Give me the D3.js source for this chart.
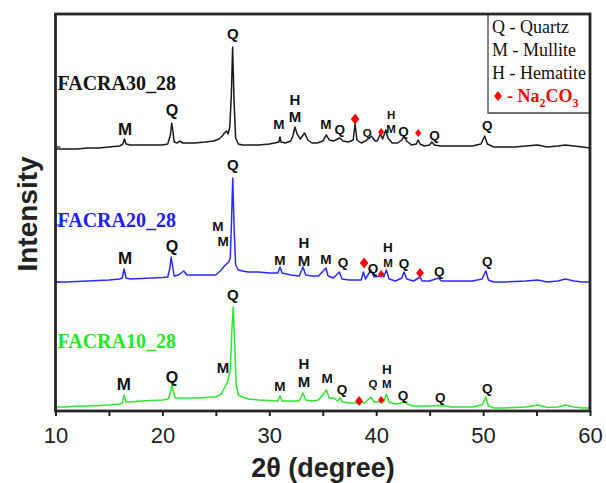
<!DOCTYPE html>
<html><head><meta charset="utf-8">
<script src="https://cdn.jsdelivr.net/npm/d3@7"></script>
<style>body{margin:0;background:#fff}</style>
</head><body>
<script>
// ---- DATA ----
const xTicks = [10, 20, 30, 40, 50, 60];
const xMinorTicks = [15, 25, 35, 45, 55];
const seriesNames = ["FACRA30_28", "FACRA20_28", "FACRA10_28"];
const seriesLabelIntensity = [321, 184, 63];

// [2theta (deg), intensity (a.u., stacked)]
const facra30 = [[10,262],[11,262],[12,262],[13,263],[14,263],[15,264],[16,265],[16.3,267],[16.45,272],[16.6,267],[17,266],[18,266],[19,266],[20,266],[20.5,267],[20.75,276],[20.87,288],[20.97,281],[21.1,269],[21.4,268],[21.6,270],[21.9,268],[22.5,268],[23,268],[24,269],[24.8,270],[25.3,272],[25.6,275],[25.8,278],[26.0,280],[26.15,277],[26.3,284],[26.45,316],[26.57,364],[26.7,311],[26.85,273],[27.1,267],[27.5,266],[28,266],[29,266],[30,267],[30.5,268],[30.9,269],[31.0,274],[31.1,269],[31.5,268],[32,270],[32.2,275],[32.4,284],[32.6,277],[32.9,272],[33.3,278],[33.6,271],[34,268],[34.5,268],[35,270],[35.35,276],[35.6,271],[36,270],[36.6,273],[36.9,270],[37.4,269],[37.85,271],[38.02,287],[38.2,271],[38.6,268],[39,270],[39.55,275],[39.9,270],[40.1,270],[40.4,277],[40.6,272],[40.9,281],[41.1,273],[41.5,268],[42,268],[42.4,271],[42.6,275],[42.85,270],[43.3,266],[43.75,267],[43.92,271],[44.1,267],[44.5,265],[45,266],[45.2,269],[45.45,266],[46,265],[47,265],[48,265],[49,265],[49.8,267],[50.15,275],[50.4,267],[51,264],[52,264],[53,264],[54,265],[55.1,266],[56,264],[57,265],[57.7,266],[58.5,265],[59.3,264],[60,263]];
const facra20 = [[10,129],[11,129],[12,129.5],[13,130],[14,130.5],[15,131],[16,132],[16.25,133],[16.42,142],[16.6,133],[17,132],[18,132.5],[19,133],[20,133.5],[20.5,134],[20.7,143],[20.82,154],[20.95,145],[21.1,135],[21.5,136],[22,140],[22.3,136],[23,136],[24,136],[25,136],[25.5,141],[25.8,145],[26.0,147],[26.2,149],[26.35,153],[26.47,191],[26.58,233],[26.7,186],[26.85,146],[27.1,141],[27.5,140],[28,139],[29,139],[30,138],[30.8,138],[31.0,144],[31.2,138],[32,136],[32.8,135],[33.15,144],[33.4,136],[34,135],[34.6,135],[35.3,143],[35.5,135],[36,133],[36.55,139],[36.8,132],[37.5,131],[38.6,131],[38.8,139],[39.0,132],[39.5,141],[39.8,134],[40.3,135],[40.5,138],[40.7,134],[40.95,141],[41.2,132],[41.8,130],[42.4,133],[42.6,139],[42.85,132],[43.5,130],[44.1,134],[44.3,130],[45,130],[45.8,133],[46.1,130],[47,130],[48,130],[49,130],[49.9,132],[50.25,140],[50.5,131],[51,129],[52,129],[53,129.5],[54,130],[55.1,131],[56,129],[57,130],[57.7,132],[58.5,130],[59.3,129],[60,129]];
const facra10 = [[10,4],[11,4],[12,5],[13,5],[14,5.5],[15,6],[16,7],[16.25,8],[16.42,16],[16.6,9],[17,9],[18,10],[19,10.5],[20,11],[20.55,12],[20.75,19],[20.88,26],[21.0,20],[21.2,13],[22,13],[23,13],[24,13.5],[25,14],[25.5,17],[25.85,24],[26.05,28],[26.2,34],[26.35,41],[26.5,81],[26.62,104],[26.75,71],[26.9,26],[27.1,16],[27.5,14],[28,12],[29,11],[30,10.5],[30.8,10],[31.0,15],[31.2,10],[32,10],[32.8,10],[33.15,18],[33.4,11],[34,10],[34.6,11],[35.35,21],[35.6,13],[36.0,13],[36.4,10],[36.62,13],[36.85,9],[37.5,8],[38.2,8],[38.6,9],[38.9,8],[39.5,14],[39.8,9],[40.3,9],[40.5,11],[40.7,9],[40.95,17],[41.2,9],[41.8,7],[42.4,8],[42.65,10],[42.9,7],[43.5,5],[44,5],[45,5],[46,5.5],[46.5,5],[47,4],[48,4],[49,4],[49.9,6],[50.25,14],[50.5,5],[51,3],[52,3],[53,3.5],[54,4],[55.1,6],[56,3.5],[57,4],[57.7,6],[58.5,4],[59.3,3],[60,3]];

// phase annotations: [2theta, intensity, text, tier]
const annot30 = [[16.5,282,"M","L"],[20.9,301,"Q","M"],[26.6,377,"Q","S"],[30.9,287,"M","XS"],[32.4,311,"H","S"],[32.4,294,"M","S"],[35.3,287,"M","XS"],[36.6,282,"Q","XS"],[39.15,278,"Q","XXS"],[41.4,296,"H","XXS"],[41.4,282,"M","XXS"],[42.55,280,"Q","XS"],[45.45,276,"Q","XS"],[50.38,286,"Q","XS"]];
const annot20 = [[16.5,153,"M","L"],[20.9,165,"Q","M"],[25.2,185,"M","XS"],[25.67,170,"M","XS"],[26.6,246,"Q","S"],[31.0,151,"M","XS"],[33.25,168,"H","S"],[33.25,150,"M","S"],[35.3,152,"M","XS"],[36.9,149,"Q","XS"],[39.7,143,"Q","XS"],[41.1,164,"H","XS"],[41.1,148,"M","XXS"],[42.6,148,"Q","XS"],[45.9,140,"Q","XS"],[50.38,150,"Q","XS"]];
const annot10 = [[16.4,27,"M","L"],[20.9,34,"Q","M"],[25.67,43,"M","S"],[26.6,116,"Q","S"],[31.0,25,"M","XS"],[33.25,47,"H","S"],[33.25,29,"M","S"],[35.4,33,"M","XS"],[36.8,22,"Q","XS"],[39.7,27,"Q","XXS"],[41.0,42,"H","XS"],[41.0,27,"M","XXS"],[42.5,16,"Q","XS"],[46.0,14,"Q","XS"],[50.4,23,"Q","XS"]];
// Na2CO3 markers: [2theta, intensity, tier]
const na30 = [[38.03,292,"L"],[40.46,279,"S"],[43.93,278,"S"]];
const na20 = [[38.87,148,"L"],[40.47,137,"S"],[44.1,138,"M"]];
const na10 = [[38.4,10,"M"],[40.47,11,"S"]];

const legendItems = ["Q - Quartz", "M - Mullite", "H - Hematite"];
const leftTicks = [264, 186, 129];

// ---- STYLE ----
const colors = ["#1a1a1a", "#2b2bff", "#2ee62e"];
const textColors = ["#111", "#2020ff", "#1fe81f"];
const tierSize = {L:17, M:16, S:15, XS:13.5, XXS:11.5};
const diamondH = {L:11, M:10, S:8};

const W = 606, H = 483;
const pL = 55.5, pR = 590, pT = 14, pB = 411;

const svg = d3.select("body").append("svg").attr("width", W).attr("height", H)
  .style("font-family", "'Liberation Sans', Arial, sans-serif");

const x = d3.scaleLinear().domain([10, 60]).range([pL, pR]);
const y = d3.scaleLinear().domain([0, pB - pT]).range([pB, pT]);

// traces
const line = d3.line().x(d => x(d[0])).y(d => y(d[1]));
[facra30, facra20, facra10].forEach((s, i) => {
  svg.append("path").datum(s).attr("d", line)
    .attr("fill", "none").attr("stroke", colors[i]).attr("stroke-width", 1.5)
    .attr("stroke-linejoin", "round");
});

// series names
seriesNames.forEach((n, i) => {
  svg.append("text").attr("x", x(10) + 2).attr("y", y(seriesLabelIntensity[i]))
    .attr("font-family", "'Liberation Serif', 'Times New Roman', serif")
    .attr("font-weight", "bold").attr("font-size", 20)
    .attr("fill", textColors[i]).text(n);
});

// annotations
[annot30, annot20, annot10].forEach(arr => {
  svg.append("g").selectAll("text").data(arr).join("text")
    .attr("x", d => x(d[0])).attr("y", d => y(d[1]))
    .attr("dy", "0.36em").attr("text-anchor", "middle")
    .attr("font-weight", "bold").attr("font-size", d => tierSize[d[3]])
    .attr("fill", "#111").text(d => d[2]);
});

// wide diamond symbol (like the ♦ glyph); size = height in px
const wideDiamond = { draw(ctx, h) { const a = h / 2, b = a * 0.78;
  ctx.moveTo(0, -a); ctx.lineTo(b, 0); ctx.lineTo(0, a); ctx.lineTo(-b, 0); ctx.closePath(); } };
[na30, na20, na10].forEach(arr => {
  svg.append("g").selectAll("path").data(arr).join("path")
    .attr("transform", d => `translate(${x(d[0])},${y(d[1])})`)
    .attr("d", d => d3.symbol(wideDiamond, diamondH[d[2]])())
    .attr("fill", "#ff0000");
});

// legend box
const lgX = 488, lgB = 113;
svg.append("path").attr("d", `M${lgX},${pT}V${lgB}H${pR}`)
  .attr("fill", "none").attr("stroke", "#444").attr("stroke-width", 1.3);
legendItems.forEach((t, i) => {
  svg.append("text").attr("x", lgX + 4).attr("y", 33 + i * 23)
    .attr("font-family", "'Liberation Serif', 'Times New Roman', serif")
    .attr("font-size", 18).attr("fill", "#111").text(t);
});
svg.append("path").attr("transform", `translate(${lgX + 10},${96})`)
  .attr("d", d3.symbol(wideDiamond, 10)()).attr("fill", "#ff0000");
const naT = svg.append("text").attr("x", lgX + 19).attr("y", 102)
  .attr("font-family", "'Liberation Serif', 'Times New Roman', serif")
  .attr("font-size", 18).attr("font-weight", "bold").attr("fill", "#ff0000");
naT.append("tspan").text("- Na");
naT.append("tspan").attr("font-size", 12).attr("dy", 5).text("2");
naT.append("tspan").attr("dy", -5).text("CO");
naT.append("tspan").attr("font-size", 12).attr("dy", 5).text("3");

// x axis
const xAxis = d3.axisBottom(x).tickValues(xTicks.concat(xMinorTicks).sort((a, b) => a - b))
  .tickSize(5).tickFormat(d => xTicks.includes(d) ? d : "");
const gx = svg.append("g").attr("transform", `translate(0,${pB})`).call(xAxis);
gx.select(".domain").remove();
gx.selectAll(".tick line").attr("stroke", "#222").attr("stroke-width", 2);
gx.selectAll(".tick text").attr("y", 32).attr("dy", 0)
  .attr("font-size", 22).attr("fill", "#222").attr("font-family", "'Liberation Sans', Arial, sans-serif");

// left inner ticks
svg.append("g").selectAll("line").data(leftTicks).join("line")
  .attr("x1", pL).attr("x2", pL + 5).attr("y1", d => y(d)).attr("y2", d => y(d))
  .attr("stroke", (d, i) => i === 0 ? "#111" : "#2b2bff").attr("stroke-width", 1.2);

// frame
svg.append("rect").attr("x", pL).attr("y", pT).attr("width", pR - pL).attr("height", pB - pT)
  .attr("fill", "none").attr("stroke", "#262626").attr("stroke-width", 2.8);

// axis titles
svg.append("text").attr("x", 323).attr("y", 477).attr("text-anchor", "middle")
  .attr("font-weight", "bold").attr("font-size", 27).attr("fill", "#222").text("2θ (degree)");
svg.append("text").attr("transform", "translate(37,214) rotate(-90)").attr("text-anchor", "middle")
  .attr("font-weight", "bold").attr("font-size", 28).attr("fill", "#222").text("Intensity");
</script>
</body></html>
